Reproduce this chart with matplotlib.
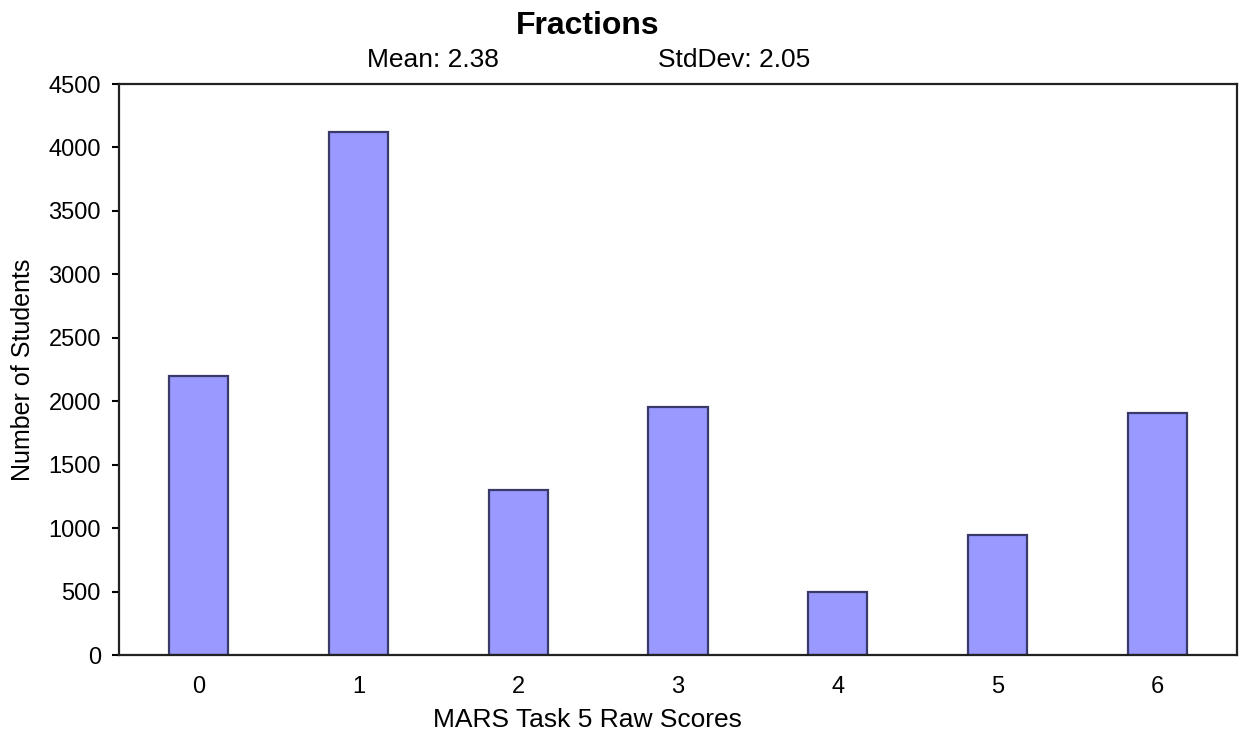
import numpy as np
import matplotlib
matplotlib.use('Agg')
import matplotlib.pyplot as plt

plt.rcParams['font.family'] = ['Liberation Sans', 'DejaVu Sans']

scores = ['0', '1', '2', '3', '4', '5', '6']
students = [2195, 4120, 1300, 1955, 495, 945, 1910]
yticks = [0, 500, 1000, 1500, 2000, 2500, 3000, 3500, 4000, 4500]

W, H = 1241, 733
L, R, T, B = 119, 1237, 84, 655  # plot area in pixels

fig = plt.figure(figsize=(W / 100, H / 100), dpi=100)
ax = fig.add_axes([L / W, 1 - B / H, (R - L) / W, (B - T) / H])

x = np.arange(len(scores))
ax.bar(x, students, width=0.37, color='#9999ff', edgecolor='#3a3a6a', linewidth=1.6)

ax.set_xlim(-0.5, len(scores) - 0.5)
ax.set_ylim(0, 4500)
ax.set_yticks(yticks)
ax.set_xticks(x)
ax.set_xticklabels(scores)
ax.tick_params(axis='y', direction='out', length=5, width=1.5, labelsize=17, pad=8)
ax.tick_params(axis='x', length=0, labelsize=17, pad=15)
for s in ax.spines.values():
    s.set_linewidth(1.6)
    s.set_color('#222222')

ax.set_ylabel('Number of Students', fontsize=18)
ax.yaxis.label.set_va('center')
ax.yaxis.set_label_coords((23 - L) / (R - L), 0.5)

ax.set_xlabel('MARS Task 5 Raw Scores', fontsize=19)
ax.xaxis.label.set_va('baseline')
ax.xaxis.set_label_coords((587 - L) / (R - L), (B - 727) / (B - T))

fig.text(588 / W, 1 - 34 / H, 'Fractions', fontsize=23, fontweight='bold',
         ha='center', va='baseline')
fig.text(367 / W, 1 - 67 / H, 'Mean: 2.38', fontsize=19, ha='left', va='baseline')
fig.text(658 / W, 1 - 67 / H, 'StdDev: 2.05', fontsize=19, ha='left', va='baseline')

plt.savefig('out.png', dpi=100)
